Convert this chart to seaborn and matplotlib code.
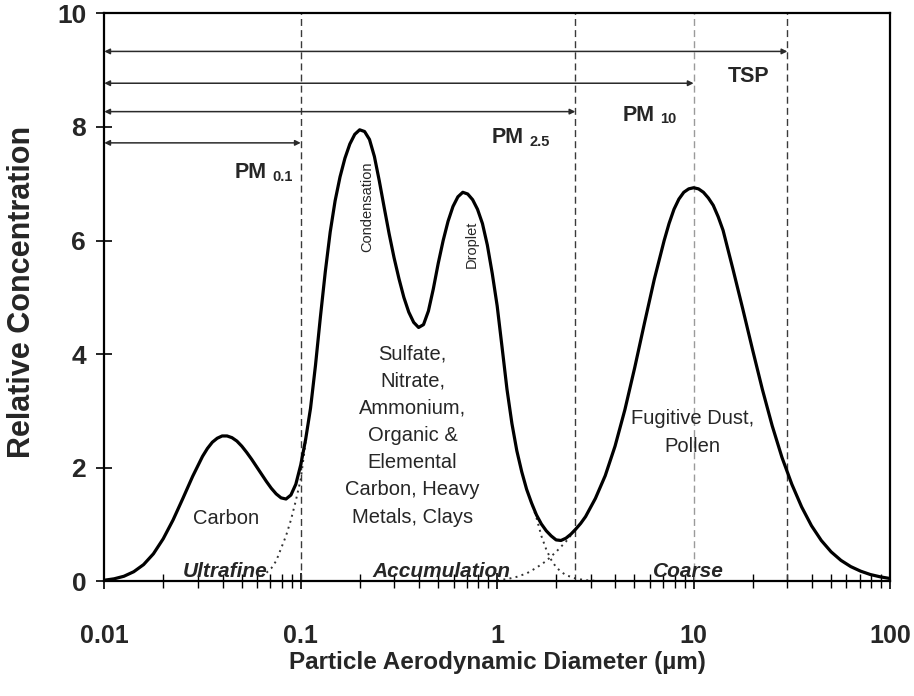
import numpy as np
import matplotlib
matplotlib.use("Agg")
import matplotlib.pyplot as plt
from matplotlib.ticker import LogLocator, NullFormatter
import seaborn as sns

sns.set_style("ticks")
plt.rcParams['font.family'] = ['Liberation Sans', 'DejaVu Sans']

# --- data ---
# total size distribution (solid line), log10 of diameter in um
log_d = [-2.000, -1.950, -1.900, -1.850, -1.800, -1.750, -1.700, -1.650, -1.600, -1.550,
         -1.500, -1.475, -1.450, -1.425, -1.400, -1.375, -1.350, -1.325, -1.300, -1.275,
         -1.250, -1.225, -1.200, -1.175, -1.150, -1.125, -1.100, -1.075, -1.050, -1.025,
         -1.000, -0.975, -0.950, -0.925, -0.900, -0.875, -0.850, -0.825, -0.800, -0.775,
         -0.750, -0.725, -0.700, -0.675, -0.650, -0.625, -0.600, -0.575, -0.550, -0.525,
         -0.500, -0.475, -0.450, -0.425, -0.400, -0.375, -0.350, -0.325, -0.300, -0.275,
         -0.250, -0.225, -0.200, -0.175, -0.150, -0.125, -0.100, -0.075, -0.050, -0.025,
         0.000, 0.025, 0.050, 0.075, 0.100, 0.125, 0.150, 0.175, 0.200, 0.225,
         0.250, 0.275, 0.300, 0.325, 0.350, 0.375, 0.400, 0.425, 0.450, 0.500,
         0.550, 0.600, 0.650, 0.700, 0.750, 0.800, 0.850, 0.875, 0.900, 0.925,
         0.950, 0.975, 1.000, 1.025, 1.050, 1.075, 1.100, 1.125, 1.150, 1.200,
         1.250, 1.300, 1.350, 1.400, 1.450, 1.500, 1.550, 1.600, 1.650, 1.700,
         1.750, 1.800, 1.850, 1.900, 1.950, 2.000]
conc = [0.02, 0.045, 0.09, 0.17, 0.295, 0.485, 0.75, 1.08, 1.46, 1.85,
        2.20, 2.34, 2.45, 2.52, 2.56, 2.56, 2.53, 2.47, 2.38, 2.27,
        2.15, 2.02, 1.89, 1.76, 1.64, 1.54, 1.47, 1.45, 1.52, 1.71,
        2.05, 2.50, 3.05, 3.80, 4.65, 5.45, 6.15, 6.70, 7.12, 7.45,
        7.70, 7.87, 7.95, 7.92, 7.78, 7.48, 7.05, 6.58, 6.12, 5.70,
        5.33, 5.00, 4.74, 4.56, 4.47, 4.52, 4.76, 5.15, 5.60, 6.00,
        6.34, 6.60, 6.77, 6.85, 6.82, 6.72, 6.55, 6.30, 5.92, 5.42,
        4.85, 4.12, 3.38, 2.78, 2.30, 1.93, 1.62, 1.38, 1.17, 1.01,
        0.89, 0.80, 0.73, 0.72, 0.76, 0.83, 0.92, 1.02, 1.14, 1.46,
        1.86, 2.38, 3.02, 3.76, 4.55, 5.32, 6.00, 6.30, 6.55, 6.73,
        6.85, 6.91, 6.93, 6.91, 6.85, 6.75, 6.62, 6.42, 6.18, 5.50,
        4.80, 4.08, 3.38, 2.74, 2.18, 1.71, 1.31, 0.98, 0.72, 0.52,
        0.37, 0.26, 0.18, 0.12, 0.08, 0.05]

# dotted mode tails
acc_left_log_d = [-1.20, -1.175, -1.15, -1.125, -1.10, -1.075, -1.05, -1.025, -1.00, -0.975]
acc_left_conc = [0.09, 0.15, 0.23, 0.36, 0.58, 0.80, 1.08, 1.42, 1.80, 2.45]
acc_right_log_d = [0.17, 0.20, 0.225, 0.25, 0.275, 0.30, 0.325, 0.35, 0.375, 0.40, 0.45, 0.50]
acc_right_conc = [1.43, 1.12, 0.80, 0.56, 0.38, 0.25, 0.17, 0.11, 0.08, 0.05, 0.02, 0.01]
coarse_left_log_d = [0.00, 0.05, 0.10, 0.15, 0.20, 0.25, 0.30, 0.35, 0.40]
coarse_left_conc = [0.02, 0.04, 0.08, 0.14, 0.24, 0.36, 0.52, 0.70, 0.92]

# size cuts: PM0.1, PM2.5, PM10, TSP
cut_sizes = [0.1, 2.5, 10, 30]
cut_arrow_y = [7.72, 8.27, 8.77, 9.33]

x_ticks = [0.01, 0.1, 1, 10, 100]
x_tick_labels = ['0.01', '0.1', '1', '10', '100']
y_ticks = [0, 2, 4, 6, 8, 10]

# --- figure ---
fig = plt.figure(figsize=(9.14, 6.96), dpi=100)
ax = fig.add_axes([0.1141, 0.1647, 0.8597, 0.8161])

for cut in cut_sizes:
    col = '#9a9a9a' if cut == 10 else '#3a3a3a'
    ax.axvline(cut, ymin=0, ymax=1, color=col, lw=1.0, ls=(0, (5, 3)), zorder=1)

for cut, yy in zip(cut_sizes, cut_arrow_y):
    ax.annotate('', xy=(cut, yy), xytext=(0.01, yy),
                arrowprops=dict(arrowstyle='<|-|>', color='#2a2a2a', lw=1.1,
                                mutation_scale=8, shrinkA=0, shrinkB=0))

dot_style = dict(color='#333333', lw=1.4, ls=(0, (1, 2.2)), errorbar=None)
sns.lineplot(x=np.power(10.0, acc_left_log_d), y=acc_left_conc, ax=ax, **dot_style)
sns.lineplot(x=np.power(10.0, acc_right_log_d), y=acc_right_conc, ax=ax, **dot_style)
sns.lineplot(x=np.power(10.0, coarse_left_log_d), y=coarse_left_conc, ax=ax, **dot_style)

sns.lineplot(x=np.power(10.0, log_d), y=conc, ax=ax, color='black', lw=2.3,
             errorbar=None, zorder=3, solid_joinstyle='round', solid_capstyle='round')

ax.set_xscale('log')
ax.set_xlim(0.01, 100)
ax.set_ylim(0, 10)
ax.set_xticks(x_ticks, labels=x_tick_labels, fontweight='bold')
ax.set_yticks(y_ticks, labels=[str(v) for v in y_ticks], fontweight='bold')
ax.xaxis.set_minor_locator(LogLocator(base=10, subs=np.arange(2, 10)))
ax.xaxis.set_minor_formatter(NullFormatter())

ax.tick_params(axis='both', which='major', direction='inout', length=12,
               width=1.2, color='black')
ax.tick_params(axis='x', which='minor', direction='inout', length=10,
               width=1.0, color='black')
ax.tick_params(axis='x', which='major', pad=25, labelsize=18)
ax.tick_params(axis='y', which='major', pad=7, labelsize=19)
for sp in ax.spines.values():
    sp.set_linewidth(1.6)
    sp.set_color('black')

ax.set_xlabel('Particle Aerodynamic Diameter (µm)', fontsize=17.5,
              fontweight='bold', labelpad=2)
ax.set_ylabel('Relative Concentration', fontsize=22, fontweight='bold')
ax.yaxis.set_label_coords(-0.086, 0.51)

# --- annotations ---
ax.text(19.0, 8.88, 'TSP', ha='center', va='center', fontsize=15.5, fontweight='bold')
for xr, yb, sub in [(6.33, 8.11, '10'), (1.365, 7.71, '2.5'), (0.067, 7.10, '0.1')]:
    ax.text(xr, yb, 'PM', ha='right', va='baseline', fontsize=15.5, fontweight='bold')
    ax.annotate(sub, xy=(xr, yb), xytext=(4, -2), textcoords='offset points',
                ha='left', va='baseline', fontsize=10.5, fontweight='bold')

ax.text(0.218, 6.60, 'Condensation', rotation=90, ha='center', va='center', fontsize=10.5)
ax.text(0.74, 5.93, 'Droplet', rotation=90, ha='center', va='center', fontsize=10.5)
ax.text(0.371, 2.57, 'Sulfate,\nNitrate,\nAmmonium,\nOrganic &\nElemental\nCarbon, Heavy\nMetals, Clays',
        ha='center', va='center', fontsize=14.5, linespacing=1.55)
ax.text(0.0415, 1.10, 'Carbon', ha='center', va='center', fontsize=14.5)
ax.text(9.9, 2.62, 'Fugitive Dust,\nPollen', ha='center', va='center',
        fontsize=14.5, linespacing=1.55)

for xc, lab in [(0.0411, 'Ultrafine'), (0.52, 'Accumulation'), (9.4, 'Coarse')]:
    ax.text(xc, 0.07, lab, ha='center', va='baseline', fontsize=15,
            fontweight='bold', style='italic')

fig.savefig('out.png', dpi=100)
